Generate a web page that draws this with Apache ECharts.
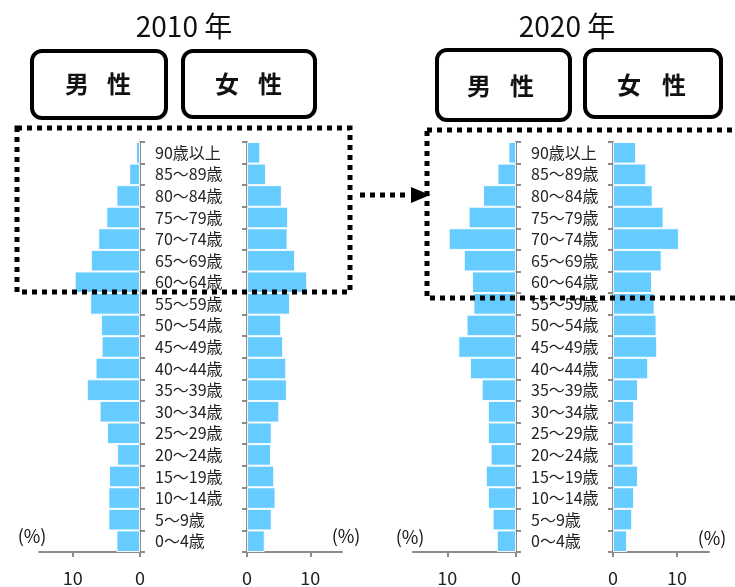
<!DOCTYPE html>
<html>
<head>
<meta charset="utf-8">
<script src="https://cdn.jsdelivr.net/npm/echarts@6/dist/echarts.min.js"></script>
<style>
html,body{margin:0;padding:0;background:#fff}
#main{width:735px;height:587px}
</style>
</head>
<body>
<div id="main"></div>
<script>
// 年齢階級（下から上へ）
var ages = ['0～4歳','5～9歳','10～14歳','15～19歳','20～24歳','25～29歳','30～34歳','35～39歳','40～44歳',
	'45～49歳','50～54歳','55～59歳','60～64歳','65～69歳','70～74歳','75～79歳','80～84歳','85～89歳','90歳以上'];
// 構成比(%)
var male2010 = [3.5,4.7,4.7,4.6,3.4,4.9,6.0,7.9,6.6,5.7,5.8,7.4,9.7,7.3,6.2,5.0,3.5,1.6,0.6];
var female2010 = [2.8,3.9,4.5,4.3,3.8,3.9,5.1,6.3,6.2,5.7,5.4,6.8,9.5,7.6,6.4,6.5,5.5,3.0,2.1];
var male2020 = [2.8,3.4,4.1,4.4,3.7,4.1,4.1,5.0,6.7,8.4,7.2,6.2,6.4,7.6,9.8,6.9,4.8,2.7,1.1];
var female2020 = [2.2,3.0,3.3,3.9,3.2,3.2,3.3,3.9,5.5,6.9,6.8,6.5,6.1,7.6,10.3,7.9,6.2,5.2,3.6];
var xTicks = [0, 10];
var years = ['2010 年', '2020 年'];

var AXIS = '#8c8c8c';
var BAR = '#66ccff';
var FONT = "'Noto Sans CJK JP', 'Noto Sans', sans-serif";
var NARROW = "'Liberation Sans Narrow', 'Noto Sans CJK JP', sans-serif";

var myChart = echarts.init(document.getElementById('main'));

function valueAxis(gi, inverse){
	return {
		type: 'value', gridIndex: gi, min: 0, max: 15, inverse: inverse,
		axisLine: {show: true, lineStyle: {color: AXIS, width: 2}},
		axisTick: {show: true, length: 5, customValues: xTicks, lineStyle: {color: AXIS, width: 2}},
		axisLabel: {customValues: xTicks, fontSize: 18, margin: 17, color: '#222', fontFamily: FONT},
		splitLine: {show: false}
	};
}
function ageAxis(gi, pos, showLabel){
	return {
		type: 'category', gridIndex: gi, data: ages, position: pos,
		axisLine: {show: true, onZero: false, lineStyle: {color: AXIS, width: 2}},
		axisTick: {show: true, length: 5, lineStyle: {color: AXIS, width: 2}},
		axisLabel: {show: showLabel, align: 'left', margin: 15, fontSize: 16, color: '#222', fontFamily: FONT}
	};
}
function barSeries(gi, data){
	return {
		type: 'bar', xAxisIndex: gi, yAxisIndex: gi, data: data,
		barCategoryGap: '0%',
		itemStyle: {color: BAR, borderColor: 'rgba(255,255,255,0.9)', borderWidth: 1},
		silent: true
	};
}
function box(x, y, w, h){
	return {type: 'rect', shape: {x: x, y: y, width: w, height: h, r: 10},
		style: {fill: '#fff', stroke: '#000', lineWidth: 4}, z: 10};
}
function txt(x, y, s, size, weight, family){
	return {type: 'text', x: x, y: y, z: 20,
		style: {text: s, fontSize: size, fontWeight: weight || 'normal', fontFamily: family || FONT,
			fill: '#111', align: 'center', verticalAlign: 'middle'}};
}
function dotted(shape){
	return {type: 'rect', shape: shape, z: 30,
		style: {fill: null, stroke: '#000', lineWidth: 5, lineDash: [5, 5], lineCap: 'butt'}};
}

var option = {
	animation: false,
	grid: [
		{left: 39, top: 142, width: 101, height: 412},
		{left: 247, top: 142, width: 95, height: 412},
		{left: 413, top: 142, width: 103, height: 412},
		{left: 613, top: 142, width: 96, height: 412}
	],
	xAxis: [valueAxis(0, true), valueAxis(1, false), valueAxis(2, true), valueAxis(3, false)],
	yAxis: [ageAxis(0, 'right', true), ageAxis(1, 'left', false), ageAxis(2, 'right', true), ageAxis(3, 'left', false)],
	series: [barSeries(0, male2010), barSeries(1, female2010), barSeries(2, male2020), barSeries(3, female2020)],
	graphic: [
		txt(184, 26, years[0], 28, 'normal', NARROW),
		txt(567, 26, years[1], 28, 'normal', NARROW),
		box(32, 51, 134, 67), box(183, 51, 132, 66),
		box(437, 50, 133, 70), box(585, 50, 136, 67),
		txt(77, 84, '男', 24, 'bold'), txt(119, 84, '性', 24, 'bold'),
		txt(227, 84, '女', 24, 'bold'), txt(270, 84, '性', 24, 'bold'),
		txt(479, 86, '男', 24, 'bold'), txt(522, 86, '性', 24, 'bold'),
		txt(629, 85, '女', 24, 'bold'), txt(674, 85, '性', 24, 'bold'),
		txt(32, 536, '(%)', 18), txt(346, 536, '(%)', 18),
		txt(410, 537, '(%)', 18), txt(712, 538, '(%)', 18),
		dotted({x: 17, y: 128, width: 333, height: 164}),
		dotted({x: 427, y: 130, width: 330, height: 168}),
		{type: 'line', shape: {x1: 360, y1: 195, x2: 410, y2: 195}, z: 30,
			style: {stroke: '#000', lineWidth: 5, lineDash: [5, 5]}},
		{type: 'polygon', shape: {points: [[411, 187], [430, 195], [411, 203]]}, z: 31,
			style: {fill: '#000'}}
	]
};
myChart.setOption(option);
</script>
</body>
</html>
